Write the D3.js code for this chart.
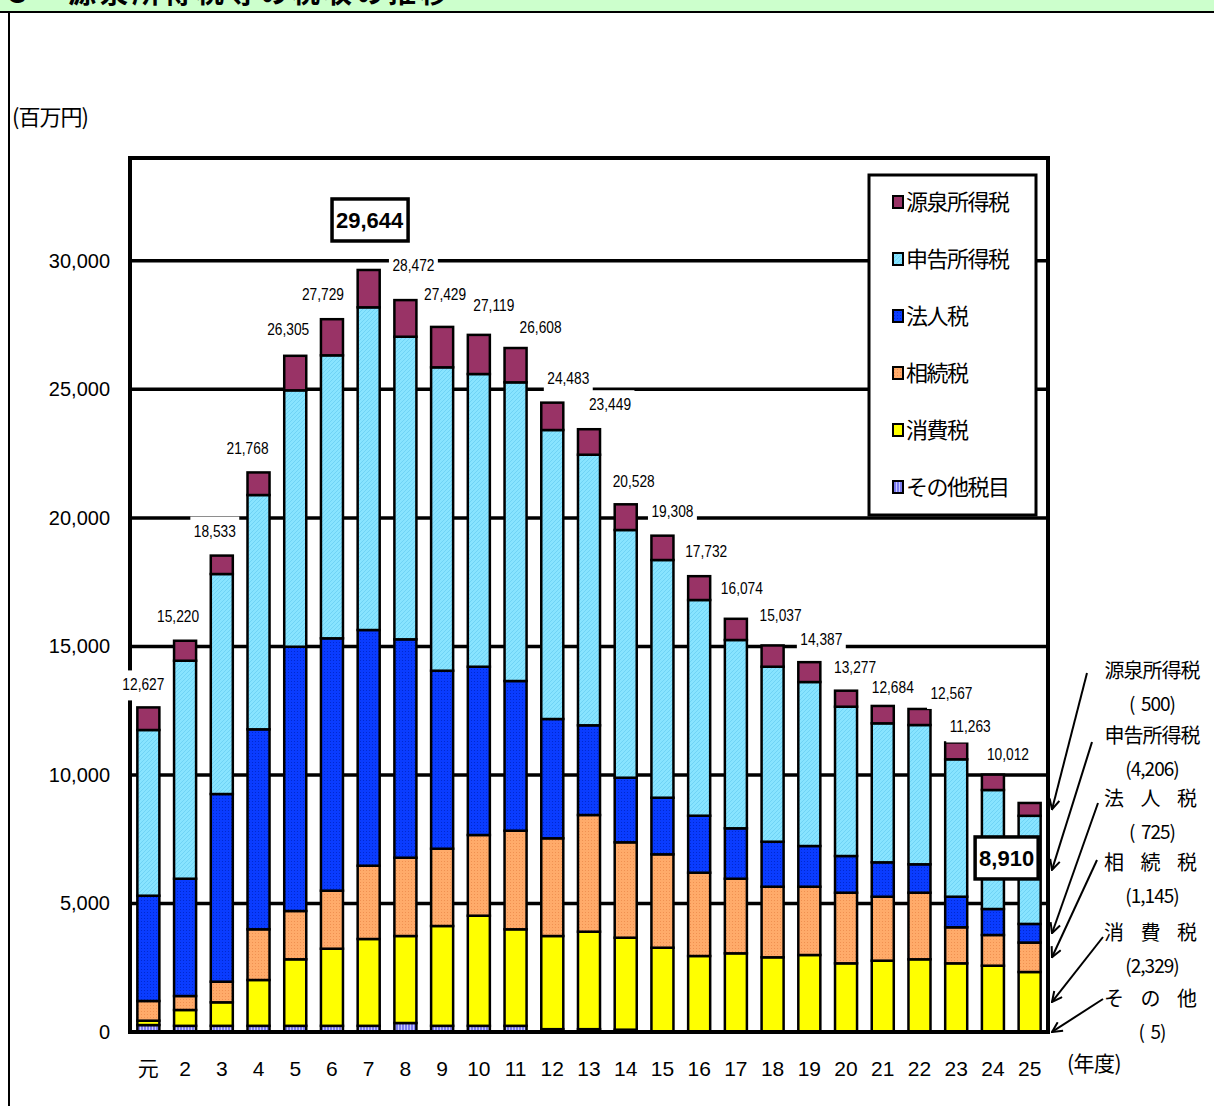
<!DOCTYPE html>
<html>
<head>
<meta charset="utf-8">
<script src="https://cdn.jsdelivr.net/npm/d3@7"></script>
<style>
body { margin: 0; background: #fff; }
svg { display: block; }
</style>
</head>
<body>
<script>
// 年度
var years = ["元","2","3","4","5","6","7","8","9","10","11","12","13","14","15","16","17","18","19","20","21","22","23","24","25"];

// 税目別（百万円） 下から積み上げ
var sonota   = [270,240,240,240,240,240,240,350,240,240,240,110,110,90,20,15,10,10,10,10,10,10,10,10,5];
var shohi    = [170,616,915,1783,2588,3000,3378,3384,3883,4284,3755,3624,3792,3578,3259,2941,3051,2896,2985,2662,2764,2818,2662,2569,2329];
var sozoku   = [766,544,802,1972,1879,2257,2851,3046,3007,3139,3836,3801,4539,3711,3633,3241,2902,2746,2657,2747,2489,2591,1401,1194,1145];
var hojin    = [4096,4563,7301,7780,10281,9818,9169,8496,6925,6547,5823,4641,3490,2513,2202,2217,1961,1751,1583,1427,1338,1105,1190,1012,725];
var shinkoku = [6446,8480,8558,9114,9974,11009,12553,11771,11802,11386,11619,11242,10526,9636,9247,8391,7325,6807,6380,5808,5407,5418,5345,4629,4206];
var gensen   = [879,777,717,879,1343,1405,1453,1425,1572,1523,1335,1065,992,1000,947,927,825,827,772,623,676,625,655,598,500];

// 合計
var totals = [12627,15220,18533,21768,26305,27729,29644,28472,27429,27119,26608,24483,23449,20528,19308,17732,16074,15037,14387,13277,12684,12567,11263,10012,8910];

var keys = ["sonota","shohi","sozoku","hojin","shinkoku","gensen"];
var seriesNames = {sonota:"その他税目", shohi:"消費税", sozoku:"相続税", hojin:"法人税", shinkoku:"申告所得税", gensen:"源泉所得税"};
var legendOrder = ["gensen","shinkoku","hojin","sozoku","shohi","sonota"];
var noteNames = {gensen:"源泉所得税", shinkoku:"申告所得税", hojin:"法 人 税", sozoku:"相 続 税", shohi:"消 費 税", sonota:"そ の 他"};

var yTicks = [0,5000,10000,15000,20000,25000,30000];

// label nudges (px) relative to bar centre / bar top
var labelDx = [-5,-7,-7,-11,-7,-9,0,8,3,15,25,16,21,8,10,7,6,8,12,9,10,32,14,15,0];
var labelDy = [-22,-24,-24,-23,-26,-24,0,-34,-32,-29,-20,-24,-24,-22,-24,-24,-30,-29,-22,-23,-18,-15,-15,-20,0];
var bigLabels = {"7": {dx: 1, dy: -50}, "25": {dx: -23, dy: 55}};

var rows = years.map(function(d, i) {
  return {year: d, sonota: sonota[i], shohi: shohi[i], sozoku: sozoku[i],
          hojin: hojin[i], shinkoku: shinkoku[i], gensen: gensen[i], total: totals[i]};
});

var W = 1214, H = 1106;
var svg = d3.select("body").append("svg").attr("width", W).attr("height", H);

var defs = svg.append("defs");
function dotPattern(id, bg, fg) {
  var p = defs.append("pattern").attr("id", id).attr("patternUnits", "userSpaceOnUse")
    .attr("width", 3).attr("height", 3);
  p.append("rect").attr("width", 3).attr("height", 3).attr("fill", bg);
  p.append("rect").attr("width", 1).attr("height", 1).attr("fill", fg);
}
dotPattern("pBlue", "#0a3cff", "#0028d0");
dotPattern("pOrange", "#ffab6a", "#f09050");
var pc = defs.append("pattern").attr("id", "pCyan").attr("patternUnits", "userSpaceOnUse")
  .attr("width", 4).attr("height", 4);
pc.append("rect").attr("width", 4).attr("height", 4).attr("fill", "#88e4ff");
pc.append("path").attr("d", "M0,4 L4,0").attr("stroke", "#6fd3f5").attr("stroke-width", 1);
var pp = defs.append("pattern").attr("id", "pPurple").attr("patternUnits", "userSpaceOnUse")
  .attr("width", 3).attr("height", 3);
pp.append("rect").attr("width", 3).attr("height", 3).attr("fill", "#c8c8ff");
pp.append("rect").attr("width", 2).attr("height", 3).attr("fill", "#7c7cf0");

var fills = {sonota: "url(#pPurple)", shohi: "#ffff00", sozoku: "url(#pOrange)",
             hojin: "url(#pBlue)", shinkoku: "url(#pCyan)", gensen: "#993366"};

// header strip (title is cut off at the top, as in the source page)
svg.append("rect").attr("x", 0).attr("y", 0).attr("width", W).attr("height", 12).attr("fill", "#ccffcc");
svg.append("text").attr("x", 4).attr("y", 3)
  .style("font-family", "'Noto Sans CJK JP'").style("font-size", "28px").style("font-weight", "bold")
  .style("letter-spacing", "4px")
  .text("３　源泉所得税等の税収の推移");
svg.append("line").attr("x1", 0).attr("x2", W).attr("y1", 12).attr("y2", 12)
  .attr("stroke", "#000").attr("stroke-width", 2);
svg.append("line").attr("x1", 9).attr("x2", 9).attr("y1", 12).attr("y2", H)
  .attr("stroke", "#000").attr("stroke-width", 2);

var x = d3.scaleBand().domain(years).range([130, 1048]).paddingInner(0.4).paddingOuter(0.2);
var y = d3.scaleLinear().domain([0, 34000]).range([1032, 158]);

// unit
svg.append("text").attr("x", 12).attr("y", 125)
  .style("font-family", "'Noto Sans CJK JP'").style("font-size", "22px").style("letter-spacing", "-1px")
  .text("(百万円)");

// grid
svg.append("g").selectAll("line").data(yTicks.filter(function(d) { return d > 0; }))
  .enter().append("line")
  .attr("x1", 130).attr("x2", 1048)
  .attr("y1", function(d) { return y(d); }).attr("y2", function(d) { return y(d); })
  .attr("stroke", "#000").attr("stroke-width", 3.5);

// y tick labels
svg.append("g").selectAll("text").data(yTicks).enter().append("text")
  .attr("x", 110).attr("y", function(d) { return y(d) + 7; })
  .attr("text-anchor", "end")
  .style("font-family", "'Liberation Sans', Arial").style("font-size", "20px")
  .text(d3.format(","));

// bars
var stack = d3.stack().keys(keys)(rows);
svg.append("g").selectAll("g").data(stack).enter().append("g")
  .attr("fill", function(s) { return fills[s.key]; })
  .selectAll("rect").data(function(s) { return s; }).enter().append("rect")
  .attr("x", function(d) { return x(d.data.year); })
  .attr("width", x.bandwidth())
  .attr("y", function(d) { return y(d[1]); })
  .attr("height", function(d) { return y(d[0]) - y(d[1]); })
  .attr("stroke", "#000").attr("stroke-width", 2.5);

// frame
svg.append("rect").attr("x", 130).attr("y", y(34000)).attr("width", 918).attr("height", 1032 - y(34000))
  .attr("fill", "none").attr("stroke", "#000").attr("stroke-width", 4);

// total labels
var lab = svg.append("g");
rows.forEach(function(r, i) {
  var cx = x(r.year) + x.bandwidth() / 2;
  var top = y(r.total);
  var big = bigLabels[r.year];
  if (big) {
    var g = lab.append("g").attr("transform", "translate(" + (cx + big.dx) + "," + (top + big.dy) + ")");
    var t = g.append("text").attr("text-anchor", "middle").attr("y", 8)
      .style("font-family", "'Liberation Sans', Arial").style("font-size", "22px").style("font-weight", "bold")
      .text(d3.format(",")(r.total));
    var bb = t.node().getBBox();
    g.insert("rect", "text").attr("x", bb.x - 4).attr("y", -21).attr("width", bb.width + 8).attr("height", 42)
      .attr("fill", "#fff").attr("stroke", "#000").attr("stroke-width", 3.5);
  } else {
    var g2 = lab.append("g")
      .attr("transform", "translate(" + (cx + labelDx[i]) + "," + (top + labelDy[i]) + ") scale(0.86,1)");
    var t2 = g2.append("text").attr("text-anchor", "middle").attr("y", 5)
      .style("font-family", "'Liberation Sans', Arial").style("font-size", "16px")
      .text(d3.format(",")(r.total));
    var b2 = t2.node().getBBox();
    g2.insert("rect", "text").attr("x", b2.x - 4).attr("y", -15).attr("width", b2.width + 8).attr("height", 30)
      .attr("fill", "#fff");
  }
});

// x labels
svg.append("g").selectAll("text").data(years).enter().append("text")
  .attr("x", function(d) { return x(d) + x.bandwidth() / 2; })
  .attr("y", 1076).attr("text-anchor", "middle")
  .style("font-family", function(d) { return d === "元" ? "'Noto Sans CJK JP'" : "'Liberation Sans', Arial"; })
  .style("font-size", "21px")
  .text(function(d) { return d; });
svg.append("text").attr("x", 1067).attr("y", 1071)
  .style("font-family", "'Noto Sans CJK JP'").style("font-size", "21px").style("letter-spacing", "-0.5px")
  .text("(年度)");

// legend
var lg = svg.append("g");
lg.append("rect").attr("x", 869).attr("y", 175).attr("width", 167).attr("height", 340)
  .attr("fill", "#fff").attr("stroke", "#000").attr("stroke-width", 3);
legendOrder.forEach(function(k, i) {
  var ly = 202 + i * 57;
  lg.append("rect").attr("x", 893).attr("y", ly - 6).attr("width", 10).attr("height", 12)
    .attr("fill", fills[k]).attr("stroke", "#000").attr("stroke-width", 2);
  lg.append("text").attr("x", 906).attr("y", ly + 8)
    .style("font-family", "'Noto Sans CJK JP'").style("font-size", "22px").style("letter-spacing", "-1.5px")
    .text(seriesNames[k]);
});

// annotations for the last year
defs.append("marker").attr("id", "arr").attr("viewBox", "0 0 12 12").attr("refX", 11).attr("refY", 6)
  .attr("markerWidth", 12).attr("markerHeight", 12).attr("markerUnits", "userSpaceOnUse").attr("orient", "auto")
  .append("path").attr("d", "M1,1 L11,6 L1,11").attr("fill", "none").attr("stroke", "#000").attr("stroke-width", 2);

var last = stack.map(function(s) { return s[s.length - 1]; });
var noteY = {gensen: 670, shinkoku: 735, hojin: 798, sozoku: 862, shohi: 932, sonota: 998};
var arrowStart = {gensen: [1087, 673], shinkoku: [1092, 742], hojin: [1098, 803], sozoku: [1097, 860], shohi: [1103, 937], sonota: [1103, 999]};
var an = svg.append("g");
keys.forEach(function(k, i) {
  var seg = last[i];
  var v = seg.data[k];
  var s = d3.format(",")(v);
  var spaced = noteNames[k].indexOf(" ") >= 0;
  an.append("text").attr("x", 1152).attr("y", noteY[k] + 8).attr("text-anchor", "middle")
    .attr("xml:space", "preserve")
    .style("font-family", "'Noto Sans CJK JP'").style("font-size", "20px")
    .style("letter-spacing", spaced ? "3px" : "-1px")
    .style("word-spacing", spaced ? "6px" : "0px")
    .text(noteNames[k]);
  an.append("text").attr("x", 1152).attr("y", noteY[k] + 41).attr("text-anchor", "middle")
    .style("font-family", "'Noto Sans CJK JP'").style("font-size", "19px").style("letter-spacing", "-1px")
    .attr("xml:space", "preserve")
    .text("(" + (s.length < 4 ? "  " + s : s) + ")");
  an.append("line")
    .attr("x1", arrowStart[k][0]).attr("y1", arrowStart[k][1])
    .attr("x2", 1052).attr("y2", y((seg[0] + seg[1]) / 2))
    .attr("stroke", "#000").attr("stroke-width", 2).attr("marker-end", "url(#arr)");
});
</script>
</body>
</html>
